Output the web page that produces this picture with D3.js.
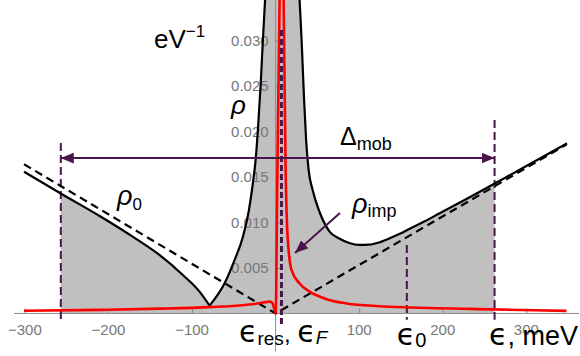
<!DOCTYPE html>
<html><head><meta charset="utf-8">
<script src="https://cdn.jsdelivr.net/npm/d3@7"></script>
<style>body{margin:0;background:#fff} svg{display:block}</style>
</head><body><svg id="c" width="580" height="356"></svg>
<script>
// ---- data (energy ε in meV, density ρ in eV^-1) ----
const xMajorTicks = [-300, -200, -100, 100, 200, 300];
const yMajorTicks = [0.005, 0.010, 0.015, 0.020, 0.025, 0.030];
// total DOS: left branch down to the cusp, then the rest (through the pole)
const rhoTotalLeft = [[-301,0.01558],[-256,0.01313],[-210.5,0.01071],[-171,0.00844],[-139,0.00643],[-111,0.00423],[-91,0.0024],[-79,0.00086]];
const rhoTotalRight = [[-79,0.00086],[-61,0.00332],[-49,0.00588],[-39.1,0.00844],[-31.9,0.01137],[-27.2,0.01431],[-23.9,0.01687],[-21.2,0.02016],[-17.9,0.02511],[-15.2,0.03005],[-12.6,0.03445],[8,0.08],
  [28.7,0.03445],[31.1,0.03005],[34.1,0.02346],[36.5,0.01907],[39.5,0.01577],[44.3,0.01357],[52.6,0.01115],[64.1,0.00906],[76.1,0.00824],[88,0.00775],[100,0.00753],[112,0.00756],[124,0.0078],[141.9,0.00848],[159.9,0.00928],[177.8,0.01011],[195.8,0.01099],[228.9,0.01261],[260,0.01418],[304.3,0.01642],[348.6,0.0187]];
// impurity DOS
const rhoImpLeft = [[-301,0.0003],[-210,0.0004],[-139,0.00053],[-79,0.0007],[-43,0.00088],[-20,0.00112],[-12,0.00125],[-7,0.0013],[-4,0.00118],[-2.2,0.0007],[-0.8,0.0002],[0,0]];
const rhoImpRight = [[0,0],[0.6,0.0016],[1.2,0.007],[2.4,0.018],[4.8,0.0345],[7,0.06],[9.6,0.0345],[12,0.0158],[14.4,0.0084],[19,0.0048],[28.7,0.0033],[40.7,0.0024],[60,0.0016],[85,0.0011],[124,0.0008],[164,0.00066],[260,0.00045],[348,0.00028]];
// bare DOS ρ0
const rho0 = [[-301,0.0164],[0,0],[348,0.01857]];
const mobilityEdges = [-257, 262];
const epsF = 7;
const eps0 = 157;
const arrowRho = 0.01708;

// ---- scales ----
const W = 580, H = 356;
const x = d3.scaleLinear().domain([-313, 363]).range([14, 579]);
const y = d3.scaleLinear().domain([-0.00418, 0.03445]).range([351.5, 0]);
const svg = d3.select('#c');
const purple = '#4a154b';
const defs = svg.append('defs');
defs.append('clipPath').attr('id','plot').append('rect')
  .attr('x',0).attr('y',0).attr('width',W).attr('height',y(-0.0006));
defs.append('clipPath').attr('id','mob').append('rect')
  .attr('x',x(mobilityEdges[0])).attr('y',0)
  .attr('width',x(mobilityEdges[1])-x(mobilityEdges[0])).attr('height',y(0));
const mk = defs.append('marker').attr('id','ah').attr('viewBox','0 0 12 10')
  .attr('refX',12).attr('refY',5).attr('markerUnits','userSpaceOnUse')
  .attr('markerWidth',13).attr('markerHeight',11).attr('orient','auto-start-reverse');
mk.append('path').attr('d','M0,0L12,5L0,10Z').attr('fill',purple);

const line = d3.line().x(d=>x(d[0])).y(d=>y(d[1])).curve(d3.curveMonotoneX);
const area = d3.area().x(d=>x(d[0])).y0(y(0)).y1(d=>y(d[1])).curve(d3.curveMonotoneX);

// gray filled region between mobility edges
const fillG = svg.append('g').attr('clip-path','url(#mob)');
[rhoTotalLeft, rhoTotalRight].forEach(s=>fillG.append('path').attr('d',area(s)).attr('fill','#c0c0c0'));

// ---- axes ----
const axisCol = '#8c8c8c', labCol = '#777';
const xMinor = d3.range(-300, 361, 20);
const gx = svg.append('g').attr('transform',`translate(0,${y(0)})`);
gx.call(d3.axisBottom(x).tickValues(xMinor).tickSize(-3).tickFormat('')).call(g=>g.select('.domain').remove());
gx.call(d3.axisBottom(x).tickValues([-300,-200,-100,0,100,200,300]).tickSize(-5).tickFormat('').tickSizeOuter(0)).call(g=>g.select('.domain').remove());
gx.append('line').attr('x1',x(-313)).attr('x2',x(363)).attr('stroke',axisCol);
gx.selectAll('line').attr('stroke',axisCol);
gx.selectAll('text.lab').data(xMajorTicks).join('text').attr('class','lab')
  .attr('x',d=>x(d)).attr('y',22).attr('text-anchor','middle')
  .attr('font-family','Liberation Sans, Arial, sans-serif').attr('font-size',15).attr('fill',labCol)
  .text(d=>d3.format('')(d).replace('-','\u2212'));

const yMinor = d3.range(-0.004, 0.0345, 0.001);
const gy = svg.append('g').attr('transform',`translate(${x(0)},0)`);
gy.call(d3.axisLeft(y).tickValues(yMinor).tickSize(-3).tickFormat('')).call(g=>g.select('.domain').remove());
gy.call(d3.axisLeft(y).tickValues(yMajorTicks).tickSize(-5).tickPadding(7).tickFormat(d3.format('.3f')))
  .call(g=>g.select('.domain').remove());
gy.append('line').attr('y1',y(0.03445)).attr('y2',y(-0.00418)).attr('stroke',axisCol);
gy.selectAll('line').attr('stroke',axisCol);
gy.selectAll('text').attr('font-family','Liberation Sans, Arial, sans-serif').attr('font-size',15).attr('fill',labCol);

// ---- vertical markers ----
const vline = (e, r1, r2, dash, w) => svg.append('line')
  .attr('x1',x(e)).attr('x2',x(e)).attr('y1',y(r1)).attr('y2',y(r2))
  .attr('stroke',purple).attr('stroke-width',w).attr('stroke-dasharray',dash);
vline(mobilityEdges[0], 0.01873, -0.0007, '8,4', 2);
vline(mobilityEdges[1], 0.02126, -0.0007, '8,4', 2);
vline(eps0, 0.00753, -0.0007, '8,4', 2);

// ---- curves ----
const plot = svg.append('g').attr('clip-path','url(#plot)');
plot.append('path').attr('d',d3.line().x(d=>x(d[0])).y(d=>y(d[1]))(rho0))
  .attr('fill','none').attr('stroke','#000').attr('stroke-width',2.2).attr('stroke-dasharray','8,5');
[rhoTotalLeft, rhoTotalRight].forEach(s=>plot.append('path').attr('d',line(s))
  .attr('fill','none').attr('stroke','#000').attr('stroke-width',2.2));
[rhoImpLeft, rhoImpRight].forEach(s=>plot.append('path').attr('d',line(s))
  .attr('fill','none').attr('stroke','#ff0000').attr('stroke-width',2.6));

vline(epsF, 0.03115, -0.0013, '6,3', 3);

// ---- arrows ----
svg.append('line').attr('x1',x(mobilityEdges[0])).attr('x2',x(mobilityEdges[1]))
  .attr('y1',y(arrowRho)).attr('y2',y(arrowRho)).attr('stroke',purple).attr('stroke-width',2)
  .attr('marker-start','url(#ah)').attr('marker-end','url(#ah)');
svg.append('line').attr('x1',x(77)).attr('y1',y(0.01104)).attr('x2',x(23.2)).attr('y2',y(0.00665))
  .attr('stroke',purple).attr('stroke-width',2).attr('marker-end','url(#ah)');

// ---- labels ----
const SF = 'Liberation Sans, Arial, sans-serif';
const EF = 'DejaVu Sans, sans-serif';
function label(px, py){ return svg.append('text').attr('x',px).attr('y',py).attr('font-family',SF).attr('fill','#000'); }
let t = label(154, 48).attr('font-size',26); t.append('tspan').text('eV');
t.append('tspan').attr('font-size',17).attr('dy',-11).text('\u22121');
label(231, 114).attr('font-size',26).attr('font-style','italic').text('\u03c1');
t = label(117, 205).attr('font-size',27); t.append('tspan').attr('font-style','italic').text('\u03c1');
t.append('tspan').attr('font-size',17).attr('dy',5).text('0');
t = label(340, 145).attr('font-size',25); t.append('tspan').text('\u0394');
t.append('tspan').attr('font-size',18).attr('dy',5).text('mob');
t = label(352, 213).attr('font-size',27); t.append('tspan').attr('font-style','italic').text('\u03c1');
t.append('tspan').attr('font-size',18).attr('dy',4).text('imp');
// ε labels
t = label(239, 342).attr('font-size',30); t.append('tspan').attr('font-family',EF).text('\u03f5');
t.append('tspan').attr('font-size',19).attr('dy',3).text('res');
t.append('tspan').attr('font-size',24).attr('dy',-3).text(', ');
t.append('tspan').attr('font-family',EF).text('\u03f5');
t.append('tspan').attr('font-size',19).attr('font-style','italic').attr('dy',2).text('F');
t = label(x(eps0)-10, 345).attr('font-size',30); t.append('tspan').attr('font-family',EF).text('\u03f5');
t.append('tspan').attr('font-size',20).attr('dy',2).text('0');
t = label(578, 345).attr('font-size',30).attr('text-anchor','end'); t.append('tspan').attr('font-family',EF).text('\u03f5');
t.append('tspan').attr('font-size',27).text(', meV');
</script></body></html>
